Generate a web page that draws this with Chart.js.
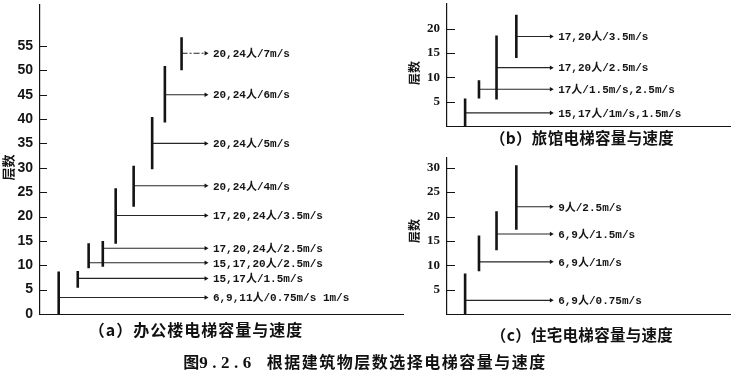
<!DOCTYPE html>
<html><head><meta charset="utf-8">
<script src="https://cdn.jsdelivr.net/npm/chart.js@4/dist/chart.umd.min.js"></script>
<style>
html,body{margin:0;padding:0;background:#fff}
body{width:734px;height:377px;overflow:hidden;position:relative;font-family:"Noto Sans CJK SC","Noto Sans",sans-serif;color:#111}
canvas{position:absolute}
.cap{position:absolute;font-weight:bold;white-space:nowrap;transform:translate(-50%,-50%);line-height:1}
</style></head><body>
<canvas id="ca" width="410" height="324" style="left:0;top:0"></canvas>
<canvas id="cb" width="344" height="130" style="left:390px;top:0"></canvas>
<canvas id="cc" width="344" height="170" style="left:390px;top:150px"></canvas>
<div class="cap" style="left:196px;top:329px;font-size:16px;letter-spacing:1px">（a）办公楼电梯容量与速度</div>
<div class="cap" style="left:582px;top:138px;font-size:15.5px;letter-spacing:0.3px">（b）旅馆电梯容量与速度</div>
<div class="cap" style="left:582px;top:335px;font-size:15.5px;letter-spacing:0.3px">（c）住宅电梯容量与速度</div>
<div class="cap" style="left:365px;top:362px;font-size:16px"><span>图</span><span style="letter-spacing:4.5px;font-family:'Liberation Serif',serif;font-size:17px">9.2.6</span><span style="margin-left:11px;letter-spacing:1.5px">根据建筑物层数选择电梯容量与速度</span></div>
<script>
// ---------- (a) 办公楼 ----------
const officeLabels = ['6,9,11人/0.75m/s 1m/s','15,17人/1.5m/s','15,17,20人/2.5m/s','17,20,24人/2.5m/s','17,20,24人/3.5m/s','20,24人/4m/s','20,24人/5m/s','20,24人/6m/s','20,24人/7m/s'];
const officeFloorLow  = [0, 5.4, 9.4, 9.7, 14.4, 22, 29.7, 39.3, 50];
const officeFloorHigh = [8.7, 8.8, 14.5, 15, 25.8, 30.4, 40.4, 50.9, 56.8];
const officeLineFloor = [3.4, 7.3, 10.5, 13.5, 20.2, 26.3, 35, 45, 53.5];
const officeCategoryPos = [5.15, 10.4, 13.4, 17.3, 20.85, 25.8, 30.9, 34.4, 39.0];
const officeLabelPos = 45.7;
const officeTicks = [0, 5, 10, 15, 20, 25, 30, 35, 40, 45, 50, 55];
const officeYMax = 63.4;

// ---------- (b) 旅馆 ----------
const hotelLabels = ['15,17人/1m/s,1.5m/s','17人/1.5m/s,2.5m/s','17,20人/2.5m/s','17,20人/3.5m/s'];
const hotelFloorLow  = [0, 5.65, 5.45, 14];
const hotelFloorHigh = [5.65, 9.4, 18.6, 22.9];
const hotelLineFloor = [2.7, 7.55, 12, 18.4];
const hotelCategoryPos = [6.4, 11.3, 17.5, 24.5];
const hotelLabelPos = 36.8;
const hotelTicks = [5, 10, 15, 20];
const hotelYMax = 25.1;

// ---------- (c) 住宅 ----------
const homeLabels = ['6,9人/0.75m/s','6,9人/1m/s','6,9人/1.5m/s','9人/2.5m/s'];
const homeFloorLow  = [0, 8.75, 13.1, 17.3];
const homeFloorHigh = [8.3, 16.1, 21.1, 30.5];
const homeLineFloor = [2.8, 10.7, 16.4, 22];
const homeCategoryPos = [6.4, 11.3, 17.5, 24.5];
const homeLabelPos = 36.8;
const homeTicks = [5, 10, 15, 20, 25, 30];
const homeYMax = 32.0;

const INK = '#141414';

const annotPlugin = {
  id: 'annot',
  afterDraw(chart, args, o) {
    const ctx = chart.ctx, xs = chart.scales.x, ys = chart.scales.y;
    ctx.save();
    // inward tick marks
    ctx.strokeStyle = INK; ctx.lineWidth = 1;
    ys.ticks.forEach(t => {
      const py = Math.round(ys.getPixelForValue(t.value)) + 0.5;
      ctx.beginPath(); ctx.moveTo(xs.left, py); ctx.lineTo(xs.left + o.tickLen, py); ctx.stroke();
    });
    // line labels
    ctx.fillStyle = INK;
    ctx.font = o.font;
    ctx.textBaseline = 'middle';
    ctx.textAlign = 'left';
    o.labels.forEach((lab, i) => {
      ctx.fillText(lab, xs.getPixelForValue(o.end) + 7, ys.getPixelForValue(o.floors[i]) + 1);
    });
    // axis title
    ctx.save();
    ctx.translate(o.titleX, (ys.top + ys.bottom) / 2 + o.titleShift);
    ctx.rotate(-Math.PI / 2);
    ctx.textAlign = 'center';
    ctx.font = 'bold ' + o.titleSize + "px 'Noto Sans CJK SC'";
    ctx.fillText('层数', 0, 0);
    ctx.restore();
    ctx.restore();
  }
};

function build(id, c) {
  const barData = [];
  c.pos.forEach((p, i) => {
    barData.push({x: p, y: c.low[i]}, {x: p, y: c.high[i]}, {x: p, y: null});
  });
  const datasets = [{
    data: barData, borderColor: INK, borderWidth: 2.6, pointRadius: 0,
    spanGaps: false, borderCapStyle: 'butt', order: 0
  }];
  c.line.forEach((f, i) => {
    datasets.push({
      data: [{x: c.pos[i], y: f}, {x: c.end, y: f}],
      borderColor: '#262626', borderWidth: 1.1,
      borderDash: i === c.dashIdx ? [6, 2, 2, 2] : [],
      pointRadius: [0, 2.6], pointStyle: 'triangle', rotation: 90,
      pointBackgroundColor: INK, pointBorderColor: INK, pointBorderWidth: 0,
      order: 1
    });
  });
  new Chart(document.getElementById(id), {
    type: 'line',
    data: {datasets},
    options: {
      responsive: false, animation: false, devicePixelRatio: 1,
      layout: {padding: c.pad},
      plugins: {
        legend: {display: false}, tooltip: {enabled: false},
        annot: {labels: c.labels, floors: c.line, end: c.end, tickLen: c.tickLen,
                titleX: c.titleX, titleShift: c.titleShift, titleSize: c.titleSize,
                font: "bold 11px 'Liberation Mono','Noto Sans CJK SC',monospace"}
      },
      scales: {
        x: {
          type: 'linear', min: 0, max: 100,
          ticks: {display: false}, grid: {display: false, drawTicks: false},
          border: {display: true, color: INK, width: 1},
          afterFit: s => { s.height = 0; s.paddingLeft = 0; s.paddingRight = 0; }
        },
        y: {
          type: 'linear', min: 0, max: c.yMax,
          afterBuildTicks: s => { s.ticks = c.ticks.map(v => ({value: v})); },
          ticks: {font: c.tickFont, color: INK, padding: 7},
          grid: {display: false, drawTicks: false},
          border: {display: true, color: INK, width: 1.2},
          afterFit: s => { s.width = c.yWidth; s.paddingTop = 0; s.paddingBottom = 0; }
        }
      }
    },
    plugins: [annotPlugin]
  });
}

build('ca', {pos: officeCategoryPos, low: officeFloorLow, high: officeFloorHigh, line: officeLineFloor,
  labels: officeLabels, end: officeLabelPos, ticks: officeTicks, yMax: officeYMax,
  pad: {top: 5, right: 7, bottom: 10, left: 0}, yWidth: 40,
  tickFont: {family: 'Liberation Sans', size: 14, weight: 'bold'}, tickLen: 7,
  titleSize: 13, titleX: 8, titleShift: 8, dashIdx: 8});
build('cb', {pos: hotelCategoryPos, low: hotelFloorLow, high: hotelFloorHigh, line: hotelLineFloor,
  labels: hotelLabels, end: hotelLabelPos, ticks: hotelTicks, yMax: hotelYMax,
  pad: {top: 3, right: 1, bottom: 4, left: 0}, yWidth: 57,
  tickFont: {family: 'Liberation Serif', size: 13, weight: 'bold'}, tickLen: 8,
  titleSize: 12, titleX: 24, titleShift: 8, dashIdx: -1});
build('cc', {pos: homeCategoryPos, low: homeFloorLow, high: homeFloorHigh, line: homeLineFloor,
  labels: homeLabels, end: homeLabelPos, ticks: homeTicks, yMax: homeYMax,
  pad: {top: 8, right: 1, bottom: 6, left: 0}, yWidth: 57,
  tickFont: {family: 'Liberation Serif', size: 13, weight: 'bold'}, tickLen: 8,
  titleSize: 12, titleX: 24, titleShift: -5, dashIdx: -1});
</script>
</body></html>
